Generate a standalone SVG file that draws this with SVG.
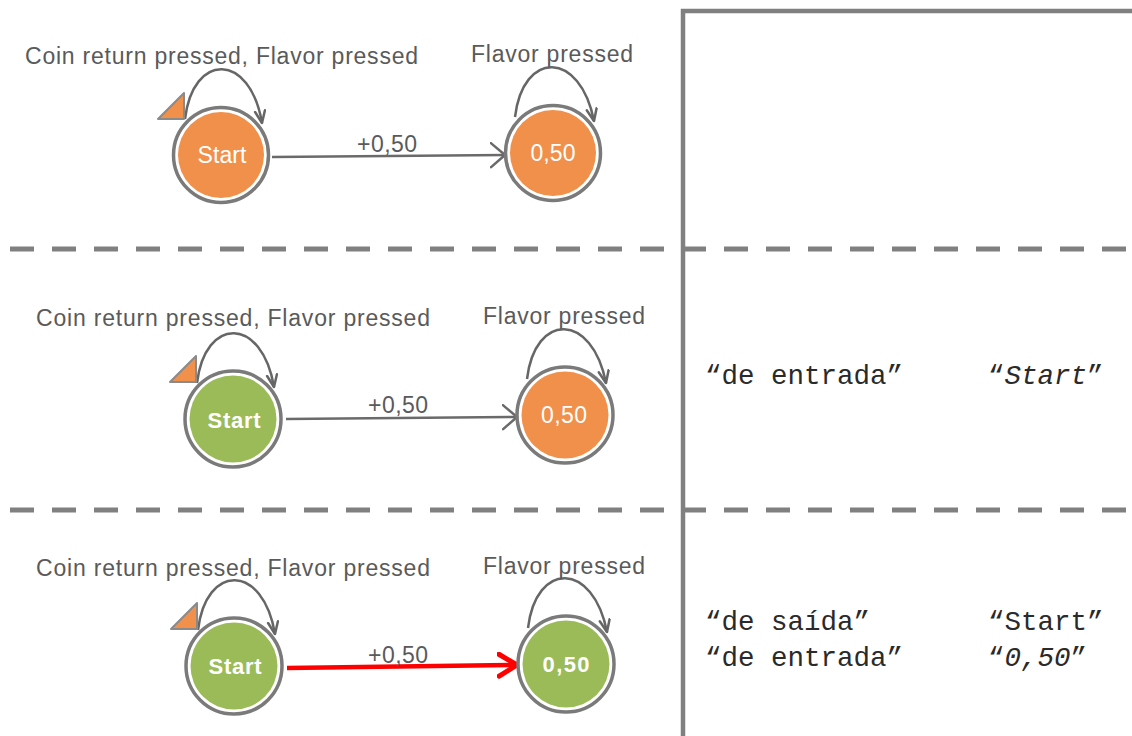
<svg xmlns="http://www.w3.org/2000/svg" width="1132" height="736" viewBox="0 0 1132 736">
<defs>
<style>
.lbl{font-family:"Liberation Sans",Arial,sans-serif;font-size:23px;fill:#5a5a5a}
.st{font-family:"Liberation Sans",Arial,sans-serif;font-size:23px;fill:#ffffff;text-anchor:middle}
.stb{font-family:"Liberation Sans",Arial,sans-serif;font-size:22px;font-weight:bold;fill:#ffffff;text-anchor:middle}
.mono{font-family:"Liberation Mono","Courier New",monospace;font-size:27.5px;fill:#2a2a2a}
.ring{fill:#ffffff;stroke:#7a7a7a;stroke-width:3.5}
.or{fill:#f0904a}
.gr{fill:#9bbb59}
.loop{fill:none;stroke:#666666;stroke-width:2.5;marker-end:url(#mLoop)}
.edge{fill:none;stroke:#6a6a6a;stroke-width:2.5;marker-end:url(#mGray)}
.edgeR{fill:none;stroke:#ff0000;stroke-width:4.5;marker-end:url(#mRed)}
.init{fill:#f0904a;stroke:#8a8a8a;stroke-width:2;stroke-linejoin:round}
.frame{fill:none;stroke:#808080;stroke-width:4.5}
.dash{stroke:#808080;stroke-width:5;stroke-dasharray:24 18}
</style>
<marker id="mGray" markerUnits="userSpaceOnUse" markerWidth="20" markerHeight="30" refX="15" refY="13" orient="auto">
<path d="M1,1 L15,13 L1,25" fill="none" stroke="#6a6a6a" stroke-width="2.5" stroke-linecap="round" stroke-linejoin="round"/>
</marker>
<marker id="mLoop" markerUnits="userSpaceOnUse" markerWidth="16" markerHeight="16" refX="13" refY="6" orient="auto">
<path d="M1,1 L13,6 L1,11" fill="none" stroke="#666666" stroke-width="2.5" stroke-linecap="round" stroke-linejoin="round"/>
</marker>
<marker id="mRed" markerUnits="userSpaceOnUse" markerWidth="26" markerHeight="30" refX="20" refY="13" orient="auto">
<path d="M2,2 L20,13 L2,24" fill="none" stroke="#ff0000" stroke-width="5" stroke-linecap="round" stroke-linejoin="round"/>
</marker>
</defs>
<rect width="1132" height="736" fill="#ffffff"/>

<g id="frame">
<path class="frame" d="M683,736 L683,11 L1132,11"/>
<line class="dash" x1="10" y1="249" x2="1132" y2="249"/>
<line class="dash" x1="10" y1="510" x2="1132" y2="510"/>
</g>

<g id="connectors">
<!-- row 1 -->
<path class="loop" d="M185,119 C193,52 250,52 262,123"/>
<path class="loop" d="M515,117 C523,50 580,50 594,121"/>
<path class="edge" d="M272,157 L505,155"/>
<text class="lbl" x="25" y="64" textLength="393">Coin return pressed, Flavor pressed</text>
<text class="lbl" x="471" y="62" textLength="162">Flavor pressed</text>
<text class="lbl" x="357" y="152" textLength="60">+0,50</text>
<!-- row 2 -->
<path class="loop" d="M197,383 C205,316 262,316 274,387"/>
<path class="loop" d="M527,379 C535,312 592,312 606,383"/>
<path class="edge" d="M286,419 L517,417"/>
<text class="lbl" x="36" y="326" textLength="394">Coin return pressed, Flavor pressed</text>
<text class="lbl" x="483" y="324" textLength="162">Flavor pressed</text>
<text class="lbl" x="368" y="413" textLength="60">+0,50</text>
<!-- row 3 -->
<path class="loop" d="M198,630 C206,563 263,563 275,634"/>
<path class="loop" d="M528,628 C536,561 593,561 607,632"/>
<path class="edgeR" d="M287,668 L517,665"/>
<text class="lbl" x="36" y="576" textLength="394">Coin return pressed, Flavor pressed</text>
<text class="lbl" x="483" y="574" textLength="162">Flavor pressed</text>
<text class="lbl" x="368" y="663" textLength="60">+0,50</text>
</g>

<g id="r1-start">
<path class="init" d="M158,119 L184,93 L184,119 Z"/>
<circle class="ring" cx="221" cy="155" r="47.5"/>
<circle class="or" cx="221" cy="155" r="43"/>
<text class="st" x="222" y="163" textLength="49">Start</text>
</g>
<g id="r1-050">
<circle class="ring" cx="553" cy="153" r="47.5"/>
<circle class="or" cx="553" cy="153" r="43"/>
<text class="st" x="553" y="161" textLength="45">0,50</text>
</g>

<g id="r2-start">
<path class="init" d="M170,382 L196,356 L196,382 Z"/>
<circle class="ring" cx="233" cy="419" r="48"/>
<circle class="gr" cx="233" cy="419" r="43.5"/>
<text class="stb" x="234" y="428" textLength="53">Start</text>
</g>
<g id="r2-050">
<circle class="ring" cx="565" cy="415" r="48"/>
<circle class="or" cx="565" cy="415" r="43.5"/>
<text class="st" x="564" y="423" textLength="46">0,50</text>
</g>

<g id="r3-start">
<path class="init" d="M171,629 L197,603 L197,629 Z"/>
<circle class="ring" cx="234" cy="666" r="48"/>
<circle class="gr" cx="234" cy="666" r="43.5"/>
<text class="stb" x="235" y="674" textLength="53">Start</text>
</g>
<g id="r3-050">
<circle class="ring" cx="566" cy="664" r="48"/>
<circle class="gr" cx="566" cy="664" r="43.5"/>
<text class="stb" x="566" y="672" textLength="47">0,50</text>
</g>

<g id="table-text">
<text class="mono" x="705" y="384">“de entrada”</text>
<text class="mono" x="988" y="384">“<tspan font-style="italic">Start</tspan>”</text>
<text class="mono" x="705" y="630">“de saída”</text>
<text class="mono" x="988" y="630">“Start”</text>
<text class="mono" x="705" y="666">“de entrada”</text>
<text class="mono" x="988" y="666">“<tspan font-style="italic">0,50</tspan>”</text>
</g>
</svg>
